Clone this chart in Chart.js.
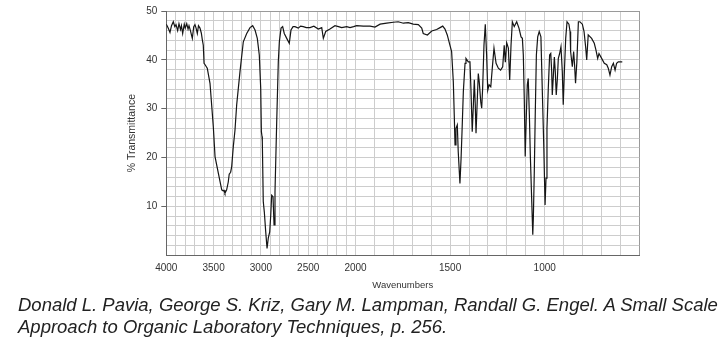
<!DOCTYPE html>
<html>
<head>
<meta charset="utf-8">
<script src="https://cdn.jsdelivr.net/npm/chart.js@4/dist/chart.umd.min.js"></script>
<style>
  html, body { margin: 0; padding: 0; background: #fff; }
  #wrap { position: relative; width: 725px; height: 344px; overflow: hidden; }
  #c { position: absolute; left: 0; top: 0; }
  #cite { position: absolute; left: 18px; top: 294px; font-family: "Liberation Sans", Arial, sans-serif;
          font-style: italic; font-size: 18.5px; line-height: 22px; color: #222; white-space: nowrap; }
</style>
</head>
<body>
<div id="wrap">
  <canvas id="c" width="725" height="300"></canvas>
  <div id="cite">Donald L. Pavia, George S. Kriz, Gary M. Lampman, Randall G. Engel. A Small Scale<br>Approach to Organic Laboratory Techniques, p. 256.</div>
</div>
<script>
// ---- data ----
const wavenumbers = [
  4000,3980,3961,3945,3926,3910,3897,3880,3866,3850,3840,3827,3810,3800,3784,3770,3760,3745,3725,3710,
  3697,3685,3672,3660,3644,3630,3619,3609,3601,3590,3580,3567,3538,3503,3485,3450,3414,3400,3390,3380,
  3362,3345,3335,3320,3309,3292,3274,3256,3221,3186,3150,3115,3087,3062,3038,3017,3002,2995,2988,2985,
  2975,2964,2949,2935,2922,2907,2896,2886,2872,2861,2851,2833,2816,2805,2787,2770,2753,2727,2700,2682,
  2660,2640,2605,2580,2552,2520,2481,2440,2393,2357,2340,2315,2270,2217,2180,2146,2093,2058,2020,1994,
  1959,1923,1897,1870,1835,1800,1774,1747,1721,1695,1668,1650,1642,1620,1597,1571,1553,1539,1527,1515,
  1501,1492,1483,1478,1474,1469,1462,1457,1448,1442,1437,1430,1421,1416,1404,1395,1390,1383,1377,1372,
  1367,1363,1356,1351,1346,1338,1333,1328,1321,1314,1307,1301,1294,1285,1277,1268,1257,1245,1233,1222,
  1214,1208,1201,1192,1185,1178,1171,1161,1148,1136,1125,1118,1113,1108,1103,1097,1092,1087,1081,1076,
  1069,1063,1060,1055,1050,1044,1037,1029,1020,1013,1005,998,993,988,981,974,968,963,960,955,
  949,944,939,933,928,921,914,907,902,896,889,882,872,866,863,854,847,842,837,830,
  822,814,801,792,783,778,770,752,738,729,720,713,699,685,672,664,655,646,637,628,
  620,611,597,590
];
const transmittance = [
  47.3,46.5,45.6,47.0,47.8,46.8,47.2,46.0,47.4,46.2,47.0,45.4,47.3,46.5,47.4,46.3,47.0,46.0,44.4,46.8,
  47.2,46.5,45.4,47.0,46.5,45.5,44.1,43.0,39.3,39.0,38.7,38.3,35.2,26.3,20.2,16.8,13.4,13.2,13.3,12.7,
  13.4,15.0,16.6,17.0,18.1,22.2,25.6,30.8,37.6,43.7,45.4,46.6,47.0,46.1,44.4,41.0,34.2,25.3,24.3,23.3,
  11.0,8.9,4.8,1.4,3.5,4.8,8.2,12.3,12.0,6.2,13.0,27.3,39.6,43.7,46.5,46.8,45.4,44.4,43.4,46.1,
  46.8,46.8,46.5,46.9,46.8,46.6,46.6,46.9,46.3,46.6,44.4,45.8,46.3,47.0,46.8,46.6,46.8,46.6,46.8,47.0,
  46.9,46.9,46.7,47.3,47.5,47.7,47.8,47.5,47.6,47.3,47.2,46.5,45.4,45.1,45.9,46.2,46.6,46.9,46.3,45.1,
  43.0,41.7,35.5,28.7,22.6,26.0,26.7,21.2,14.7,19.8,25.3,33.5,39.3,40.3,39.6,39.6,34.2,25.3,30.8,35.9,
  30.8,25.0,32.1,37.2,35.5,31.4,30.1,34.2,43.0,47.3,41.0,33.8,34.9,34.5,38.3,42.4,39.3,38.3,37.9,38.6,
  43.0,39.5,43.5,42.4,35.9,43.0,47.8,46.8,47.8,46.5,44.7,44.4,41.0,32.1,20.2,28.7,34.9,36.2,28.7,20.5,
  11.7,4.2,7.6,17.1,28.7,41.0,44.7,45.8,44.7,34.2,22.6,10.3,15.8,26.0,34.2,41.0,41.3,37.6,32.8,36.2,
  40.6,37.6,32.8,36.2,40.3,41.3,42.7,37.6,30.8,37.6,44.4,47.8,47.3,45.8,41.7,38.6,41.7,38.9,35.2,39.6,
  47.8,47.8,47.3,45.8,42.4,40.0,45.1,44.4,43.4,42.0,40.3,41.3,40.3,39.3,39.0,38.3,36.9,38.6,39.3,37.9,
  39.3,39.6,39.6,39.6
];
const xLabelValues = [4000, 3500, 3000, 2500, 2000, 1500, 1000];
const yLabelValues = [10, 20, 30, 40, 50];
const X_MAX = 4000, X_MIN = 500, X_BREAK = 2000, X_STEP = 100;
const Y_MIN = 0, Y_MAX = 50, Y_STEP = 2;

// ---- IR wavenumber scale: 4000-2000 at half the scale of 2000-500 ----
class WaveScale extends Chart.LinearScale {
  buildTicks() {
    const t = [];
    for (let w = X_MAX; w >= X_MIN; w -= X_STEP) t.push({ value: w });
    return t;
  }
  _pos(v) {
    return v >= X_BREAK ? (X_MAX - v) / 2 : (X_MAX - X_BREAK) / 2 + (X_BREAK - v);
  }
  getPixelForValue(v) {
    return this.left + this._pos(v) / this._pos(X_MIN) * this.width;
  }
  getValueForPixel(p) {
    const u = (p - this.left) / this.width * this._pos(X_MIN);
    const half = (X_MAX - X_BREAK) / 2;
    return u <= half ? X_MAX - 2 * u : X_BREAK - (u - half);
  }
}
WaveScale.id = 'wave';
WaveScale.defaults = {};
Chart.register(WaveScale);

const GRID = '#cdcdcd', EDGE = '#9a9a9a', AXIS = '#666';
const H = 300, PLOT_BOTTOM = 255.3;
const FONT = '"Liberation Sans", Arial, sans-serif';

new Chart(document.getElementById('c'), {
  type: 'line',
  data: {
    datasets: [{
      data: wavenumbers.map((w, i) => ({ x: w, y: transmittance[i] })),
      borderColor: '#151515',
      borderWidth: 1.2,
      pointRadius: 0,
      tension: 0,
      fill: false
    }]
  },
  options: {
    responsive: false,
    animation: false,
    events: [],
    layout: { padding: { left: 0, top: 11, right: 85.7, bottom: 0 } },
    plugins: { legend: { display: false }, tooltip: { enabled: false } },
    scales: {
      x: {
        type: 'wave',
        min: X_MIN, max: X_MAX,
        afterFit: s => { s.height = H - PLOT_BOTTOM; },
        border: { display: true, color: AXIS, width: 1 },
        grid: {
          color: ctx => (ctx.tick && (ctx.tick.value === X_MIN)) ? EDGE : GRID,
          lineWidth: 1,
          drawTicks: false
        },
        ticks: {
          autoSkip: false, maxRotation: 0, minRotation: 0, padding: 7,
          color: '#333',
          font: { family: FONT, size: 10 },
          callback: v => xLabelValues.includes(v) ? String(v) : ''
        },
        title: {
          display: true, text: 'Wavenumbers', color: '#333',
          font: { family: FONT, size: 9.5 },
          padding: { top: 0, bottom: 8.6 }
        }
      },
      y: {
        type: 'linear',
        min: Y_MIN, max: Y_MAX,
        afterFit: s => { s.width = 166.3; },
        border: { display: true, color: AXIS, width: 1 },
        grid: {
          color: ctx => (ctx.tick && ctx.tick.value === Y_MAX) ? EDGE : GRID,
          lineWidth: 1,
          tickLength: 5,
          tickColor: ctx => (ctx.tick && yLabelValues.includes(ctx.tick.value)) ? '#666' : 'rgba(0,0,0,0)'
        },
        ticks: {
          stepSize: Y_STEP, autoSkip: false, padding: 4,
          color: '#333',
          font: { family: FONT, size: 10 },
          callback: v => yLabelValues.includes(v) ? String(v) : ''
        },
        title: {
          display: true, text: '% Transmittance', color: '#333',
          font: { family: FONT, size: 10.5 },
          padding: { top: 125.7, bottom: 0 }
        }
      }
    }
  }
});
</script>
</body>
</html>
